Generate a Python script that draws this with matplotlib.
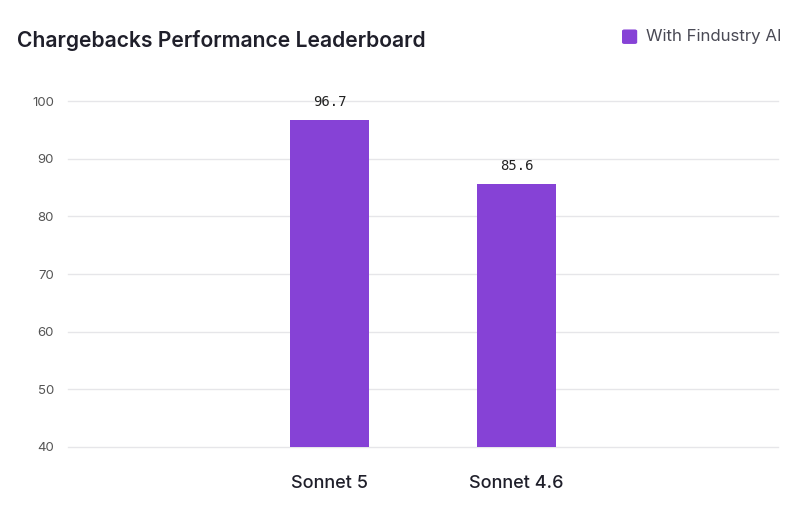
import matplotlib.pyplot as plt
from matplotlib.patches import FancyBboxPatch
import numpy as np

models = ['Sonnet 5', 'Sonnet 4.6']
scores = [96.7, 85.6]
series_name = 'With Findustry AI'
yticks = [40, 50, 60, 70, 80, 90, 100]

purple = '#8642d6'

plt.rcParams['font.family'] = ['Inter', 'DejaVu Sans']

fig = plt.figure(figsize=(8, 5.17), dpi=100)
ax = fig.add_axes([0.085, 0.1354, 0.8875, 0.6692])

x = np.arange(len(models))
bars = ax.bar(x, scores, width=0.42, bottom=0, color=purple, zorder=3)
ax.set_ylim(40, 100)
ax.set_xlim(-1.4, 2.4)

for b, v in zip(bars, scores):
    ax.text(b.get_x() + b.get_width() / 2, v + 1.9, f'{v}', ha='center', va='bottom',
            fontsize=10, family='DejaVu Sans Mono', color='#222222')

ax.set_yticks(yticks)
ax.set_yticklabels([str(t) for t in yticks], fontsize=9.5, color='#555555')
ax.set_xticks(x)
ax.set_xticklabels(models, fontsize=13, color='#1f1f2a', fontweight='medium')
ax.tick_params(axis='y', length=0, pad=10)
ax.tick_params(axis='x', length=0, pad=20)
ax.grid(axis='y', color='#e6e6e9', linewidth=1, zorder=0, clip_on=False)
for s in ax.spines.values():
    s.set_visible(False)

fig.text(0.021, 0.922, 'Chargebacks Performance Leaderboard', fontsize=15.2,
         fontweight='semibold', color='#1f1f2a', va='center')

fig.patches.append(FancyBboxPatch((0.7775, 0.915), 0.019, 0.028, boxstyle='round,pad=0,rounding_size=0.003',
                                  transform=fig.transFigure, facecolor=purple, edgecolor='none'))
fig.text(0.808, 0.929, series_name, fontsize=12.1, color='#4a4a55', va='center')

fig.savefig('out.png', dpi=100)
